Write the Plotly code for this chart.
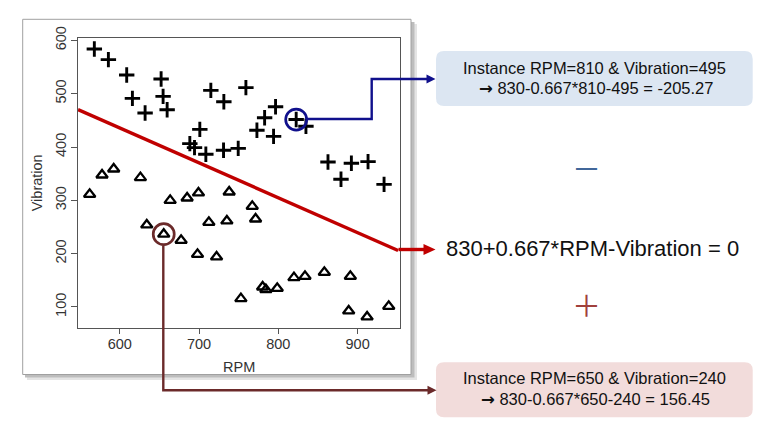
import plotly.graph_objects as go

W, H = 777, 432

# ---- data ----
cross_rpm = [568.0, 585.7, 608.8, 616.0, 632.0, 652.2, 654.7, 659.8, 688.4, 694.3,
             701.0, 708.6, 714.9, 731.3, 730.9, 749.4, 759.1, 773.0, 782.7, 796.5,
             794.0, 822.5, 834.8, 862.6, 879.0, 892.1, 913.1, 933.3]
cross_vib = [583.8, 563.8, 535.0, 491.3, 463.8, 527.5, 495.0, 470.0, 406.3, 398.8,
             433.1, 386.3, 506.3, 485.0, 393.8, 397.5, 511.3, 431.3, 455.0, 475.6,
             420.0, 451.5, 438.8, 371.9, 339.4, 369.4, 372.5, 330.0]

tri_rpm = [562.1, 577.7, 592.4, 626.1, 634.1, 655.5, 663.6, 677.4, 685.0, 699.3,
           698.1, 712.4, 722.1, 735.1, 738.0, 767.1, 771.3, 752.8, 780.2, 784.3,
           798.6, 819.7, 833.6, 858.0, 890.8, 888.7, 911.9, 939.2]
tri_vib = [311.3, 347.5, 358.8, 342.5, 253.8, 236.5, 300.0, 225.0, 304.4, 313.8,
           198.8, 258.8, 193.8, 261.3, 315.6, 288.8, 265.0, 115.6, 137.5, 132.5,
           135.0, 155.0, 157.5, 165.0, 157.5, 92.5, 81.3, 101.3]

boundary_rpm = [547.4, 951.0]
boundary_vib = [470.0, 206.0]

x_ticks = [600, 700, 800, 900]
y_ticks = [100, 200, 300, 400, 500, 600]
x_range = [547.4, 953.4]
y_range = [60.0, 605.0]

circled_cross = (822.5, 451.5)
circled_tri = (655.5, 236.5)

equation_text = "830+0.667*RPM-Vibration = 0"
ARROW = '<span style="font-family:\'DejaVu Sans\'"><b>→</b></span>'
box_top_lines = ["Instance RPM=810 &amp; Vibration=495",
                 ARROW + " 830-0.667*810-495 = -205.27"]
box_bot_lines = ["Instance RPM=650 &amp; Vibration=240",
                 ARROW + " 830-0.667*650-240 = 156.45"]

# ---- helpers (pixel -> paper) ----
def px(x):
    return x / W

def py(y):
    return 1 - y / H

def pt(x, y):
    return f"{px(x):.5f},{py(y):.5f}"

def rrect(x0, y0, x1, y1, r):
    return (f"M{pt(x0 + r, y0)} L{pt(x1 - r, y0)} Q{pt(x1, y0)} {pt(x1, y0 + r)} "
            f"L{pt(x1, y1 - r)} Q{pt(x1, y1)} {pt(x1 - r, y1)} L{pt(x0 + r, y1)} "
            f"Q{pt(x0, y1)} {pt(x0, y1 - r)} L{pt(x0, y0 + r)} Q{pt(x0, y0)} {pt(x0 + r, y0)} Z")

def head(tipx, tipy, length, half):
    return f"M{pt(tipx, tipy)} L{pt(tipx - length, tipy - half)} L{pt(tipx - length, tipy + half)} Z"

BLUE = "#10108c"
BROWN = "#6b2a2a"
RED = "#c00000"

fig = go.Figure()

fig.add_trace(go.Scatter(x=boundary_rpm, y=boundary_vib, mode="lines",
                         line=dict(color=RED, width=3.4), hoverinfo="skip",
                         showlegend=False, cliponaxis=False))
fig.add_trace(go.Scatter(x=cross_rpm, y=cross_vib, mode="markers",
                         marker=dict(symbol="cross-thin", size=11,
                                     line=dict(color="black", width=2.9)),
                         showlegend=False))
fig.add_trace(go.Scatter(x=tri_rpm, y=tri_vib, mode="markers",
                         marker=dict(symbol="triangle-up-open", size=10, color="black",
                                     line=dict(color="black", width=2.3)),
                         showlegend=False))

shapes = []
# R-plot panel with drop shadow
shapes.append(dict(type="rect", xref="paper", yref="paper", layer="below",
                   x0=px(27), x1=px(417), y0=py(380), y1=py(24),
                   fillcolor="#e4e4e4", line=dict(width=0)))
shapes.append(dict(type="rect", xref="paper", yref="paper", layer="below",
                   x0=px(25), x1=px(414.5), y0=py(377.5), y1=py(22),
                   fillcolor="#bdbdbd", line=dict(width=0)))
shapes.append(dict(type="rect", xref="paper", yref="paper", layer="below",
                   x0=px(22.7), x1=px(411), y0=py(374.5), y1=py(19.3),
                   fillcolor="white", line=dict(color="#a0a0a0", width=1)))
# info boxes
shapes.append(dict(type="path", xref="paper", yref="paper", layer="below",
                   path=rrect(436, 51, 752.7, 106, 8),
                   fillcolor="#dce6f2", line=dict(width=0)))
shapes.append(dict(type="path", xref="paper", yref="paper", layer="below",
                   path=rrect(436, 362.3, 752.7, 417.3, 8),
                   fillcolor="#f2dcdb", line=dict(width=0)))
# circles around highlighted instances
for (cx, cy), col in [(circled_cross, BLUE), (circled_tri, BROWN)]:
    shapes.append(dict(type="circle", xref="x", yref="y", xsizemode="pixel",
                       ysizemode="pixel", xanchor=cx, yanchor=cy,
                       x0=-10.5, x1=10.5, y0=-10.5, y1=10.5,
                       line=dict(color=col, width=2.7)))
# connectors
shapes.append(dict(type="path", xref="paper", yref="paper",
                   path=f"M{pt(307, 119)} L{pt(371.7, 119)} L{pt(371.7, 79)} L{pt(428, 79)}",
                   line=dict(color=BLUE, width=2.4)))
shapes.append(dict(type="path", xref="paper", yref="paper",
                   path=head(435.5, 79, 9, 4.5), fillcolor=BLUE, line=dict(width=0)))
shapes.append(dict(type="path", xref="paper", yref="paper",
                   path=f"M{pt(163.3, 245.5)} L{pt(163.3, 390.3)} L{pt(428, 390.3)}",
                   line=dict(color=BROWN, width=2.4)))
shapes.append(dict(type="path", xref="paper", yref="paper",
                   path=head(436.5, 390.3, 9, 4.5), fillcolor=BROWN, line=dict(width=0)))
shapes.append(dict(type="path", xref="paper", yref="paper",
                   path=f"M{pt(398.5, 249.5)} L{pt(424, 249.5)}",
                   line=dict(color=RED, width=3.4)))
shapes.append(dict(type="path", xref="paper", yref="paper",
                   path=head(435.5, 249.5, 12, 5.5), fillcolor=RED, line=dict(width=0)))

FONT = "Liberation Sans"
ann = []
def text(x, y, s, size, color="#111111", font=FONT, angle=0):
    ann.append(dict(x=px(x), y=py(y), xref="paper", yref="paper", text=s,
                    showarrow=False, xanchor="center", yanchor="middle",
                    textangle=angle,
                    font=dict(family=font, size=size, color=color)))

text(239, 366.7, "RPM", 14.5, "#333333")
text(37.3, 183, "Vibration", 14.5, "#333333", angle=-90)
text(594.5, 67.7, box_top_lines[0], 16.5)
text(595.5, 88.5, box_top_lines[1], 16.5)
text(594.5, 378.3, box_bot_lines[0], 16.5)
text(595.5, 399, box_bot_lines[1], 16.5)
text(592, 249, equation_text, 22)
text(586, 166.5, "－", 29, "#41679a", font="Noto Sans CJK SC")
text(586, 304, "＋", 29, "#a0403c", font="Noto Sans CJK SC")

fig.update_layout(
    width=W, height=H,
    margin=dict(l=0, r=0, t=0, b=0),
    paper_bgcolor="white", plot_bgcolor="rgba(0,0,0,0)",
    shapes=shapes, annotations=ann,
    xaxis=dict(domain=[px(78), px(400)], range=x_range, tickvals=x_ticks,
               ticks="outside", ticklen=5, tickcolor="#555", tickwidth=1,
               ticklabelstandoff=-3,
               showline=True, mirror=True, linecolor="#555", linewidth=1,
               showgrid=False, zeroline=False, automargin=False,
               tickfont=dict(family=FONT, size=14.5, color="#333333")),
    yaxis=dict(domain=[py(328.3), py(37.7)], range=y_range, tickvals=y_ticks,
               ticks="outside", ticklen=6, tickcolor="#555", tickwidth=1,
               ticklabelstandoff=-1,
               showline=True, mirror=True, linecolor="#555", linewidth=1,
               showgrid=False, zeroline=False, automargin=False, tickangle=-90,
               tickfont=dict(family=FONT, size=14.5, color="#333333")),
)

fig.write_html("out.html", config={"displayModeBar": False},
               post_script="document.body.style.margin='0';document.body.style.padding='0';")
